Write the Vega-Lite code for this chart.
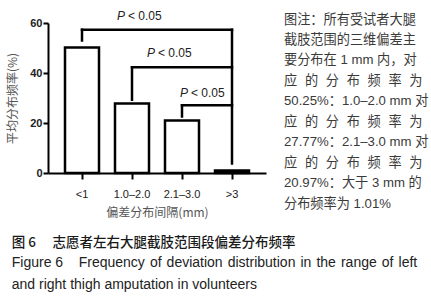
{
  "$schema": "https://vega.github.io/schema/vega-lite/v6.json",
  "background": "white",
  "padding": {"left": 6, "top": 9, "right": 4, "bottom": 4},
  "config": {"view": {"stroke": null}, "concat": {"spacing": 18}},
  "title": {
    "text": "图\u00a06\u3000\u00a0志愿者左右大腿截肢范围段偏差分布频率",
    "subtitle": ["Figure 6\u00a0\u00a0\u00a0 Frequency \u200aof \u200adeviation \u200adistribution \u200ain \u200athe \u200arange \u200aof \u200aleft", "and right thigh amputation in volunteers"],
    "orient": "bottom",
    "anchor": "start",
    "offset": 18,
    "dx": 5,
    "font": "Noto Sans CJK SC",
    "fontSize": 13.5,
    "fontWeight": 500,
    "color": "#1a1a1a",
    "subtitleFont": "Liberation Sans",
    "subtitleFontSize": 14,
    "subtitleColor": "#222",
    "subtitleLineHeight": 22,
    "subtitlePadding": 6
  },
  "datasets": {
    "bars": [
      {"cat": "<1", "value": 50.25},
      {"cat": "1.0–2.0", "value": 27.77},
      {"cat": "2.1–3.0", "value": 20.97},
      {"cat": ">3", "value": 1.01}
    ],
    "hlines": [
      {"from": "<1", "to": ">3", "level": 57.3},
      {"from": "1.0–2.0", "to": ">3", "level": 42.3},
      {"from": "2.1–3.0", "to": ">3", "level": 27.1}
    ],
    "vlines": [
      {"cat": "<1", "top": 57.3, "bottom": 53},
      {"cat": "1.0–2.0", "top": 42.3, "bottom": 29.3},
      {"cat": "2.1–3.0", "top": 27.1, "bottom": 22.6},
      {"cat": ">3", "top": 57.3, "bottom": 3.8}
    ],
    "notes": [
      {"line": 1, "text": "图注：所有受试者大腿"},
      {"line": 2, "text": "截肢范围的三维偏差主"},
      {"line": 3, "text": "要分布在 1 mm 内，对"},
      {"line": 4, "text": "应\u2002\u200a的\u2002\u200a分\u2002\u200a布\u2002\u200a频\u2002\u200a率\u2002\u200a为"},
      {"line": 5, "text": "50.25%：1.0–2.0 mm 对"},
      {"line": 6, "text": "应\u2002\u200a的\u2002\u200a分\u2002\u200a布\u2002\u200a频\u2002\u200a率\u2002\u200a为"},
      {"line": 7, "text": "27.77%：2.1–3.0 mm 对"},
      {"line": 8, "text": "应\u2002\u200a的\u2002\u200a分\u2002\u200a布\u2002\u200a频\u2002\u200a率\u2002\u200a为"},
      {"line": 9, "text": "20.97%：大于 3 mm 的"},
      {"line": 10, "text": "分布频率为 1.01%"}
    ]
  },
  "hconcat": [
    {
      "width": 218,
      "height": 150,
      "layer": [
        {
          "data": {"name": "bars"},
          "mark": {"type": "bar", "fill": "white", "stroke": "black", "strokeWidth": 2.5},
          "encoding": {
            "x": {
              "field": "cat", "type": "nominal",
              "sort": ["<1", "1.0–2.0", "2.1–3.0", ">3"],
              "scale": {"domain": ["<1", "1.0–2.0", "2.1–3.0", ">3"], "paddingInner": 0.32, "paddingOuter": 0.34},
              "axis": {
                "title": "偏差分布间隔(mm)",
                "titleFont": "Noto Sans CJK SC", "titleFontSize": 12, "titleFontWeight": "normal", "titleColor": "#555", "titlePadding": 8,
                "labelAngle": 0, "labelFont": "Liberation Sans", "labelFontSize": 11, "labelColor": "#222", "labelPadding": 9,
                "domainColor": "black", "domainWidth": 2, "tickColor": "black", "tickWidth": 2, "tickSize": 6
              }
            },
            "y": {
              "field": "value", "type": "quantitative",
              "scale": {"domain": [0, 60]},
              "axis": {
                "title": "平均分布频率(%)",
                "values": [0, 20, 40, 60], "grid": false,
                "titleFont": "Noto Sans CJK SC", "titleFontSize": 12, "titleFontWeight": "normal", "titleColor": "#555", "titlePadding": 10,
                "labelFont": "Liberation Sans", "labelFontSize": 11, "labelFontWeight": "bold", "labelColor": "#222", "labelPadding": 1,
                "domainColor": "black", "domainWidth": 2, "tickColor": "black", "tickWidth": 2, "tickSize": 5
              }
            }
          }
        },
        {
          "data": {"name": "hlines"},
          "mark": {"type": "rule", "color": "black", "strokeWidth": 2.5, "strokeCap": "square"},
          "encoding": {
            "x": {"field": "from", "type": "nominal", "sort": ["<1", "1.0–2.0", "2.1–3.0", ">3"]},
            "x2": {"field": "to"},
            "y": {"field": "level", "type": "quantitative"}
          }
        },
        {
          "data": {"name": "vlines"},
          "mark": {"type": "rule", "color": "black", "strokeWidth": 2.5, "strokeCap": "square"},
          "encoding": {
            "x": {"field": "cat", "type": "nominal", "sort": ["<1", "1.0–2.0", "2.1–3.0", ">3"]},
            "y": {"field": "top", "type": "quantitative"},
            "y2": {"field": "bottom"}
          }
        },
        {
          "data": {"values": [{"cat": "1.0–2.0", "y": 63}]},
          "mark": {"type": "text", "text": "P", "fontStyle": "italic", "align": "left", "baseline": "middle", "dx": -15, "font": "Liberation Sans", "fontSize": 12, "color": "#222"},
          "encoding": {"x": {"field": "cat", "type": "nominal", "sort": ["<1", "1.0–2.0", "2.1–3.0", ">3"]}, "y": {"field": "y", "type": "quantitative"}}
        },
        {
          "data": {"values": [{"cat": "1.0–2.0", "y": 63}]},
          "mark": {"type": "text", "text": "< 0.05", "align": "left", "baseline": "middle", "dx": -4, "font": "Liberation Sans", "fontSize": 12, "color": "#222"},
          "encoding": {"x": {"field": "cat", "type": "nominal", "sort": ["<1", "1.0–2.0", "2.1–3.0", ">3"]}, "y": {"field": "y", "type": "quantitative"}}
        },
        {
          "data": {"values": [{"cat": "2.1–3.0", "y": 48.2}]},
          "mark": {"type": "text", "text": "P", "fontStyle": "italic", "align": "left", "baseline": "middle", "dx": -35, "font": "Liberation Sans", "fontSize": 12, "color": "#222"},
          "encoding": {"x": {"field": "cat", "type": "nominal", "sort": ["<1", "1.0–2.0", "2.1–3.0", ">3"]}, "y": {"field": "y", "type": "quantitative"}}
        },
        {
          "data": {"values": [{"cat": "2.1–3.0", "y": 48.2}]},
          "mark": {"type": "text", "text": "< 0.05", "align": "left", "baseline": "middle", "dx": -24, "font": "Liberation Sans", "fontSize": 12, "color": "#222"},
          "encoding": {"x": {"field": "cat", "type": "nominal", "sort": ["<1", "1.0–2.0", "2.1–3.0", ">3"]}, "y": {"field": "y", "type": "quantitative"}}
        },
        {
          "data": {"values": [{"cat": "2.1–3.0", "y": 32.2}]},
          "mark": {"type": "text", "text": "P", "fontStyle": "italic", "align": "left", "baseline": "middle", "dx": -2, "font": "Liberation Sans", "fontSize": 12, "color": "#222"},
          "encoding": {"x": {"field": "cat", "type": "nominal", "sort": ["<1", "1.0–2.0", "2.1–3.0", ">3"]}, "y": {"field": "y", "type": "quantitative"}}
        },
        {
          "data": {"values": [{"cat": "2.1–3.0", "y": 32.2}]},
          "mark": {"type": "text", "text": "< 0.05", "align": "left", "baseline": "middle", "dx": 9, "font": "Liberation Sans", "fontSize": 12, "color": "#222"},
          "encoding": {"x": {"field": "cat", "type": "nominal", "sort": ["<1", "1.0–2.0", "2.1–3.0", ">3"]}, "y": {"field": "y", "type": "quantitative"}}
        }
      ]
    },
    {
      "width": 137,
      "height": 184,
      "data": {"name": "notes"},
      "mark": {"type": "text", "align": "left", "baseline": "middle", "dy": -3.5, "font": "Liberation Sans, Noto Sans CJK SC", "fontSize": 13.2, "color": "#3a3a3a"},
      "encoding": {
        "y": {"field": "line", "type": "ordinal", "scale": {"type": "point", "padding": 0}, "axis": null},
        "x": {"value": 0},
        "text": {"field": "text"}
      }
    }
  ]
}
